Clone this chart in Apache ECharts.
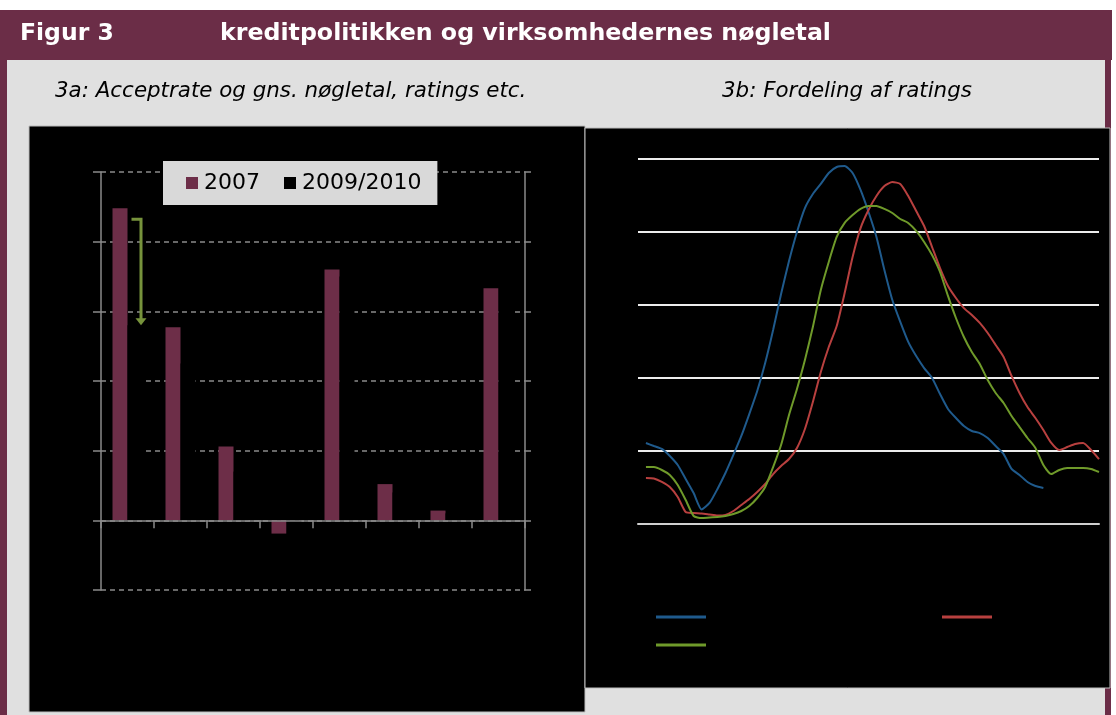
<!DOCTYPE html>
<html>
<head>
<meta charset="utf-8">
<script src="https://cdn.jsdelivr.net/npm/echarts@6/dist/echarts.min.js"></script>
<style>
html,body{margin:0;padding:0;background:#fff;}
#c{width:1116px;height:715px;}
</style>
</head>
<body>
<div id="c"></div>
<script>
// ---------- data ----------
const titleText = 'Figur 3';
const titleMain = 'kreditpolitikken og virksomhedernes nøgletal';
const subA = '3a: Acceptrate og gns. nøgletal, ratings etc.';
const subB = '3b: Fordeling af ratings';

// 3a
const barCategories = ['Acceptrate', 'Soliditet', 'Afkastgrad', 'Vækst', 'Rating', 'Likviditet', 'Gældsgrad', 'Størrelse'];
const seriesNames = ['2007', '2009/2010'];
const values2007 = [89.6, 55.4, 21.2, -3.8, 72, 10.4, 2.8, 66.6];
const values2009 = [56, 45, 14, -5, 70, 8, 2, 68];
const arrowFrom = 86.4;   // start of drop arrow (category 1)
const arrowTo = 56;       // end of drop arrow

// 3b
const ratingX = [1,2,3,4,5,6,7,8,9,10,11,12,13,14,15,16,17,18,19,20,21,22,23,24,25,26,27,28,29,30,
                 31,32,33,34,35,36,37,38,39,40,41,42,43,44,45,46,47,48,49,50,51,52,53,54,55,56,57,58];
const lineNames = ['Alle virksomheder', 'Lån bevilget', 'Lån afvist'];
const lineBlue = [5.55,5.34,5.14,4.66,4.04,3.08,2.12,1.00,1.44,2.40,3.49,4.73,6.03,7.53,9.11,11.03,13.29,15.75,18.01,20.0,
                  21.64,22.6,23.29,24.04,24.45,24.52,24.04,22.88,21.37,19.66,17.4,15.34,13.84,12.47,11.5,10.68,10.0,8.9,7.88,7.26,
                  6.71,6.37,6.23,5.89,5.34,4.79,3.77,3.36,2.88,2.6,2.47];
const lineRed = [3.15,3.12,2.88,2.53,1.85,0.82,0.75,0.72,0.65,0.58,0.62,0.89,1.30,1.71,2.19,2.74,3.42,3.97,4.45,5.21,
                 6.51,8.36,10.41,12.12,13.56,15.82,18.29,20.27,21.51,22.47,23.15,23.42,23.29,22.47,21.44,20.41,18.97,17.53,16.3,15.48,
                 14.79,14.32,13.77,13.08,12.26,11.44,10.14,8.97,8.01,7.26,6.44,5.55,5.07,5.27,5.48,5.55,5.07,4.45];
const lineGreen = [3.90,3.90,3.70,3.36,2.67,1.64,0.55,0.41,0.45,0.48,0.55,0.68,0.89,1.23,1.78,2.53,3.90,5.41,7.47,9.25,
                   11.23,13.49,16.03,17.95,19.66,20.62,21.16,21.58,21.78,21.78,21.58,21.3,20.89,20.62,20.07,19.32,18.42,17.26,15.62,14.11,
                   12.81,11.78,10.96,9.86,8.97,8.29,7.4,6.64,5.89,5.21,4.04,3.42,3.7,3.84,3.84,3.84,3.77,3.56];

// ---------- styling ----------
const MAROON = '#6b2d47';
const BAR = '#6d2e48';
const BLUE = '#1f5a8c';
const RED = '#b8403f';
const GREEN = '#6f9a2a';
const FONT = 'DejaVu Sans';

const pair = ys => ys.map((y, i) => [ratingX[i], y]);

const chart = echarts.init(document.getElementById('c'), null, {renderer: 'canvas'});

const frame = [
  {type: 'rect', shape: {x: 0, y: 10, width: 1112, height: 50}, style: {fill: MAROON}, z: -10, silent: true},
  {type: 'rect', shape: {x: 0, y: 10, width: 7, height: 705}, style: {fill: MAROON}, z: -10, silent: true},
  {type: 'rect', shape: {x: 7, y: 60, width: 1098, height: 655}, style: {fill: '#e0e0e0'}, z: -10, silent: true},
  {type: 'rect', shape: {x: 1105, y: 60, width: 6, height: 655}, style: {fill: MAROON}, z: -10, silent: true},
  {type: 'rect', shape: {x: 29, y: 126, width: 556, height: 586}, style: {fill: '#000', stroke: '#bdbdbd', lineWidth: 1}, z: -9, silent: true},
  {type: 'rect', shape: {x: 585, y: 128, width: 525, height: 560}, style: {fill: '#000', stroke: '#bdbdbd', lineWidth: 1}, z: -9, silent: true},
  {type: 'text', x: 20, y: 34, style: {text: titleText, fill: '#fff', font: 'bold 23.5px "DejaVu Sans"', textVerticalAlign: 'middle'}, z: 5},
  {type: 'text', x: 220, y: 34, style: {text: titleMain, fill: '#fff', font: 'bold 23.7px "DejaVu Sans"', textVerticalAlign: 'middle'}, z: 5},
  {type: 'text', x: 55, y: 91, style: {text: subA, fill: '#000', font: 'italic 21.4px "DejaVu Sans"', textVerticalAlign: 'middle'}, z: 5},
  {type: 'text', x: 722, y: 91, style: {text: subB, fill: '#000', font: 'italic 21.4px "DejaVu Sans"', textVerticalAlign: 'middle'}, z: 5}
];

const option = {
  animation: false,
  backgroundColor: '#ffffff',
  textStyle: {fontFamily: FONT},
  grid: [
    {left: 101, top: 172, width: 424, height: 418},
    {left: 638, top: 159, width: 461, height: 365}
  ],
  legend: [
    {
      data: seriesNames, left: 163, top: 161, orient: 'horizontal',
      backgroundColor: '#d9d9d9', padding: [11, 16, 11, 23],
      itemWidth: 12, itemHeight: 12, itemGap: 24, icon: 'rect',
      textStyle: {fontSize: 22, color: '#000', fontFamily: FONT, padding: [0, 0, 0, 1]}
    },
    {data: [lineNames[0]], left: 656, top: 615.5, padding: 0, icon: 'rect', itemWidth: 50, itemHeight: 3, formatter: () => '', textStyle: {fontSize: 1}},
    {data: [lineNames[1]], left: 942, top: 615.5, padding: 0, icon: 'rect', itemWidth: 50, itemHeight: 3, formatter: () => '', textStyle: {fontSize: 1}},
    {data: [lineNames[2]], left: 656, top: 643.5, padding: 0, icon: 'rect', itemWidth: 50, itemHeight: 3, formatter: () => '', textStyle: {fontSize: 1}}
  ],
  xAxis: [
    {
      type: 'category', gridIndex: 0, data: barCategories, z: 10,
      axisLine: {show: true, onZero: true, lineStyle: {color: '#8a8a8a', width: 1.5}},
      axisTick: {show: true, interval: 0, length: 8, lineStyle: {color: '#8a8a8a', width: 1.5}},
      axisLabel: {show: false, interval: 0}, splitLine: {show: false}
    },
    {
      type: 'value', gridIndex: 1, min: 0, max: 58,
      axisLine: {show: true, lineStyle: {color: '#cfcfcf', width: 2}},
      axisTick: {show: false}, axisLabel: {show: false}, splitLine: {show: false}
    }
  ],
  yAxis: [
    {
      type: 'value', gridIndex: 0, min: -20, max: 100, interval: 20,
      axisLine: {show: true, lineStyle: {color: '#8a8a8a', width: 1.5}},
      axisTick: {show: true, length: 8, lineStyle: {color: '#8a8a8a', width: 1.5}},
      axisLabel: {show: false},
      splitLine: {show: true, lineStyle: {color: '#8a8a8a', type: [5, 4], width: 1.5}}
    },
    {
      type: 'value', gridIndex: 0, position: 'right', min: -20, max: 100, interval: 20,
      axisLine: {show: true, lineStyle: {color: '#8a8a8a', width: 1.5}},
      axisTick: {show: true, length: 6, lineStyle: {color: '#8a8a8a', width: 1.5}},
      axisLabel: {show: false}, splitLine: {show: false}
    },
    {
      type: 'value', gridIndex: 1, min: 0, max: 25, interval: 5,
      axisLine: {show: false}, axisTick: {show: false}, axisLabel: {show: false},
      splitLine: {show: true, lineStyle: {color: '#ececec', width: 2}}
    }
  ],
  series: [
    {name: seriesNames[0], type: 'bar', xAxisIndex: 0, yAxisIndex: 0, data: values2007,
     barWidth: 15, barGap: '0%', itemStyle: {color: BAR}, z: 3},
    {name: seriesNames[1], type: 'bar', xAxisIndex: 0, yAxisIndex: 0, data: values2009,
     barWidth: 15, barGap: '0%', itemStyle: {color: '#000'}, z: 3},
    {name: lineNames[0], type: 'line', xAxisIndex: 1, yAxisIndex: 2, data: pair(lineBlue),
     showSymbol: false, smooth: 0.2, lineStyle: {color: BLUE, width: 2}, itemStyle: {color: BLUE}},
    {name: lineNames[1], type: 'line', xAxisIndex: 1, yAxisIndex: 2, data: pair(lineRed),
     showSymbol: false, smooth: 0.2, lineStyle: {color: RED, width: 2}, itemStyle: {color: RED}},
    {name: lineNames[2], type: 'line', xAxisIndex: 1, yAxisIndex: 2, data: pair(lineGreen),
     showSymbol: false, smooth: 0.2, lineStyle: {color: GREEN, width: 2}, itemStyle: {color: GREEN}}
  ],
  graphic: frame
};
chart.setOption(option);

// drop arrow for first category, located through the axis scales
const pTop = chart.convertToPixel({xAxisIndex: 0, yAxisIndex: 0}, [0, arrowFrom]);
const pBot = chart.convertToPixel({xAxisIndex: 0, yAxisIndex: 0}, [0, arrowTo]);
const ax = pTop[0] + 12;
chart.setOption({
  graphic: frame.concat([
    {type: 'polyline', shape: {points: [[ax - 8, pTop[1]], [ax + 1.5, pTop[1]], [ax + 1.5, pBot[1] - 6]]},
     style: {stroke: '#77933c', lineWidth: 3, fill: null}, z: 10},
    {type: 'polygon', shape: {points: [[ax - 4, pBot[1] - 7], [ax + 7, pBot[1] - 7], [ax + 1.5, pBot[1]]]},
     style: {fill: '#77933c'}, z: 10}
  ])
});
</script>
</body>
</html>
